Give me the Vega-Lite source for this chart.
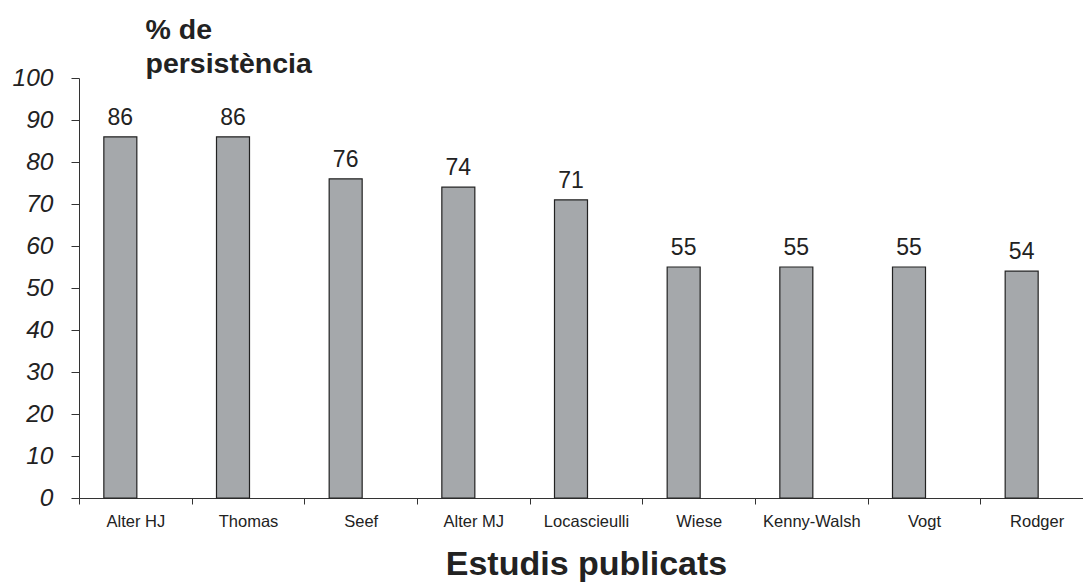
{
  "$schema": "https://vega.github.io/schema/vega-lite/v6.json",
  "autosize": "none",
  "width": 1014,
  "height": 420,
  "padding": {"left": 79, "top": 78, "right": 0, "bottom": 85},
  "background": "white",
  "config": {"view": {"stroke": null}, "font": "Liberation Sans"},
  "data": {"values": [
    {"estudi": "Alter HJ", "pct": 86},
    {"estudi": "Thomas", "pct": 86},
    {"estudi": "Seef", "pct": 76},
    {"estudi": "Alter MJ", "pct": 74},
    {"estudi": "Locascieulli", "pct": 71},
    {"estudi": "Wiese", "pct": 55},
    {"estudi": "Kenny-Walsh", "pct": 55},
    {"estudi": "Vogt", "pct": 55},
    {"estudi": "Rodger", "pct": 54}
  ]},
  "encoding": {
    "x": {
      "field": "estudi", "type": "nominal", "sort": null,
      "scale": {"paddingInner": 0, "paddingOuter": 0},
      "axis": {
        "title": "Estudis publicats", "titleFontSize": 34, "titleFontWeight": "bold", "titleColor": "#222",
        "titleBaseline": "alphabetic", "titleY": 76,
        "labelAngle": 0, "labelFontSize": 16.5, "labelColor": "#222", "labelPadding": 9,
        "tickBand": "extent", "tickSize": 6, "tickColor": "#333", "domainColor": "#333",
        "grid": false
      }
    },
    "y": {
      "field": "pct", "type": "quantitative",
      "scale": {"domain": [0, 100], "nice": false},
      "axis": {
        "title": ["% de", "persistència"], "titleAngle": 0, "titleAlign": "left", "titleBaseline": "alphabetic",
        "titleX": 66, "titleY": -40, "titleFontSize": 28.5, "titleFontWeight": "bold", "titleColor": "#222",
        "titleLineHeight": 34,
        "values": [0, 10, 20, 30, 40, 50, 60, 70, 80, 90, 100],
        "labelFontSize": 24.5, "labelFontStyle": "italic", "labelColor": "#222", "labelPadding": 18,
        "tickSize": 8, "tickColor": "#333", "domainColor": "#333", "grid": false
      }
    }
  },
  "layer": [
    {"mark": {"type": "bar", "width": 33, "xOffset": -15, "fill": "#a5a8ab", "stroke": "#222", "strokeWidth": 1.2}},
    {"mark": {"type": "text", "xOffset": -15, "dy": -12, "baseline": "alphabetic", "fontSize": 23, "color": "#222"},
     "encoding": {"text": {"field": "pct", "type": "quantitative"}}}
  ]
}
